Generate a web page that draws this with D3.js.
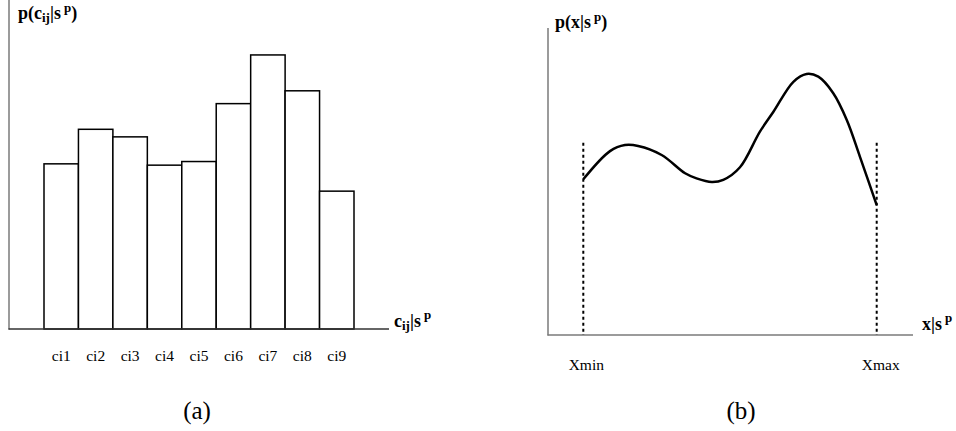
<!DOCTYPE html>
<html><head><meta charset="utf-8">
<script src="https://cdn.jsdelivr.net/npm/d3@7"></script>
<style>body{margin:0;background:#fff}svg{display:block}text{font-family:"Liberation Serif","Times New Roman",serif;fill:#000}</style>
</head><body><svg id="c" width="956" height="431"></svg>
<script>
// Panel (a): histogram
const categories = ["ci1","ci2","ci3","ci4","ci5","ci6","ci7","ci8","ci9"];
const barValues = [50.2, 60.7, 58.4, 49.8, 50.9, 68.5, 83.3, 72.4, 41.9];
// Panel (b): continuous density
const curveX = [0, 9.1, 14.2, 18.7, 26.7, 34.7, 38.6, 43.8, 47.7, 53.4, 60.2, 64.8, 71.6, 76.1, 80.1, 85.2, 89.8, 94.3, 100];
const curveY = [51.9, 61.3, 63.3, 63.0, 60.0, 53.9, 52.2, 51.0, 51.7, 55.9, 67.8, 74.4, 84.4, 87.0, 86.1, 80.6, 71.7, 59.4, 43.3];
const boundLabels = ["Xmin", "Xmax"];
const boundX = [0, 100];
const boundTop = 64.1;
const panelLabels = ["(a)", "(b)"];

const svg = d3.select("#c");
const axisColor = "#7a7a7a";
const serif = '"Liberation Serif","Times New Roman",serif';

// ---------- Panel (a)
const xa = d3.scaleBand().domain(categories).range([44, 354]).padding(0);
const ya = d3.scaleLinear().domain([0, 100]).range([329, 0]);
const ga = svg.append("g");
ga.append("line").attr("x1", 9).attr("x2", 9).attr("y1", 0).attr("y2", 329.5)
  .attr("stroke", axisColor).attr("stroke-width", 1.5);
ga.selectAll("rect.bar").data(barValues).join("rect").attr("class","bar")
  .attr("x", (d,i) => xa(categories[i]))
  .attr("y", d => ya(d))
  .attr("width", xa.bandwidth())
  .attr("height", d => ya(0) - ya(d))
  .attr("fill", "#fff").attr("stroke", "#000").attr("stroke-width", 1.5);
ga.append("line").attr("x1", 8.5).attr("x2", 389).attr("y1", 329).attr("y2", 329)
  .attr("stroke", "#333").attr("stroke-width", 1.5);
const axA = d3.axisBottom(xa).tickSize(0).tickPadding(0);
const axAg = ga.append("g").attr("transform", "translate(0,350)").call(axA);
axAg.select(".domain").remove();
axAg.selectAll("text").attr("font-size", 15.5).attr("dy", "0.71em").attr("fill", "#000")
  .style("font-family", serif);

// y label (a)
const ylA = ga.append("text").attr("x", 18).attr("y", 19).attr("font-size", 18).attr("font-weight", "bold");
ylA.append("tspan").text("p(c");
ylA.append("tspan").attr("font-size", 13).attr("dy", 3).text("ij");
ylA.append("tspan").attr("dy", -3).text("|s");
ylA.append("tspan").attr("font-size", 13).attr("dy", -7).attr("dx", 3).text("p");
ylA.append("tspan").attr("dy", 7).text(")");
// x label (a)
const xlA = ga.append("text").attr("x", 394).attr("y", 327).attr("font-size", 18).attr("font-weight", "bold");
xlA.append("tspan").text("c");
xlA.append("tspan").attr("font-size", 13).attr("dy", 3).text("ij");
xlA.append("tspan").attr("dy", -3).text("|s");
xlA.append("tspan").attr("font-size", 13).attr("dy", -8).attr("dx", 3).text("p");

// ---------- Panel (b)
const xb = d3.scaleLinear().domain([0, 100]).range([583.3, 876.7]);
const yb = d3.scaleLinear().domain([0, 100]).range([335, 35]);
const gb = svg.append("g");
gb.append("line").attr("x1", 548).attr("x2", 548).attr("y1", 28).attr("y2", 335.5)
  .attr("stroke", axisColor).attr("stroke-width", 1.5);
gb.append("line").attr("x1", 547.5).attr("x2", 913).attr("y1", 335).attr("y2", 335)
  .attr("stroke", axisColor).attr("stroke-width", 1.5);
gb.selectAll("line.bound").data(boundX).join("line").attr("class","bound")
  .attr("x1", d => xb(d)).attr("x2", d => xb(d))
  .attr("y1", yb(boundTop)).attr("y2", yb(0))
  .attr("stroke", "#000").attr("stroke-width", 2).attr("stroke-dasharray", "3,3");
const pts = curveX.map((x, i) => [x, curveY[i]]);
gb.append("path").datum(pts)
  .attr("d", d3.line().x(d => xb(d[0])).y(d => yb(d[1])).curve(d3.curveCatmullRom.alpha(0.5)))
  .attr("fill", "none").attr("stroke", "#000").attr("stroke-width", 2.5);
gb.selectAll("text.bl").data(boundLabels).join("text").attr("class","bl")
  .attr("x", (d,i) => xb(boundX[i]) + (i === 0 ? 3 : 4)).attr("y", 370)
  .attr("text-anchor", "middle").attr("font-size", 15.5).text(d => d);

const ylB = gb.append("text").attr("x", 555).attr("y", 28).attr("font-size", 18).attr("font-weight", "bold");
ylB.append("tspan").text("p(x|s");
ylB.append("tspan").attr("font-size", 13).attr("dy", -7).attr("dx", 3).text("p");
ylB.append("tspan").attr("dy", 7).text(")");
const xlB = gb.append("text").attr("x", 922).attr("y", 330).attr("font-size", 18).attr("font-weight", "bold");
xlB.append("tspan").text("x|s");
xlB.append("tspan").attr("font-size", 13).attr("dy", -8).attr("dx", 3).text("p");

// panel labels
svg.selectAll("text.pl").data(panelLabels).join("text").attr("class","pl")
  .attr("x", (d,i) => [197, 741][i]).attr("y", 419)
  .attr("text-anchor", "middle").attr("font-size", 25).text(d => d);
</script></body></html>
